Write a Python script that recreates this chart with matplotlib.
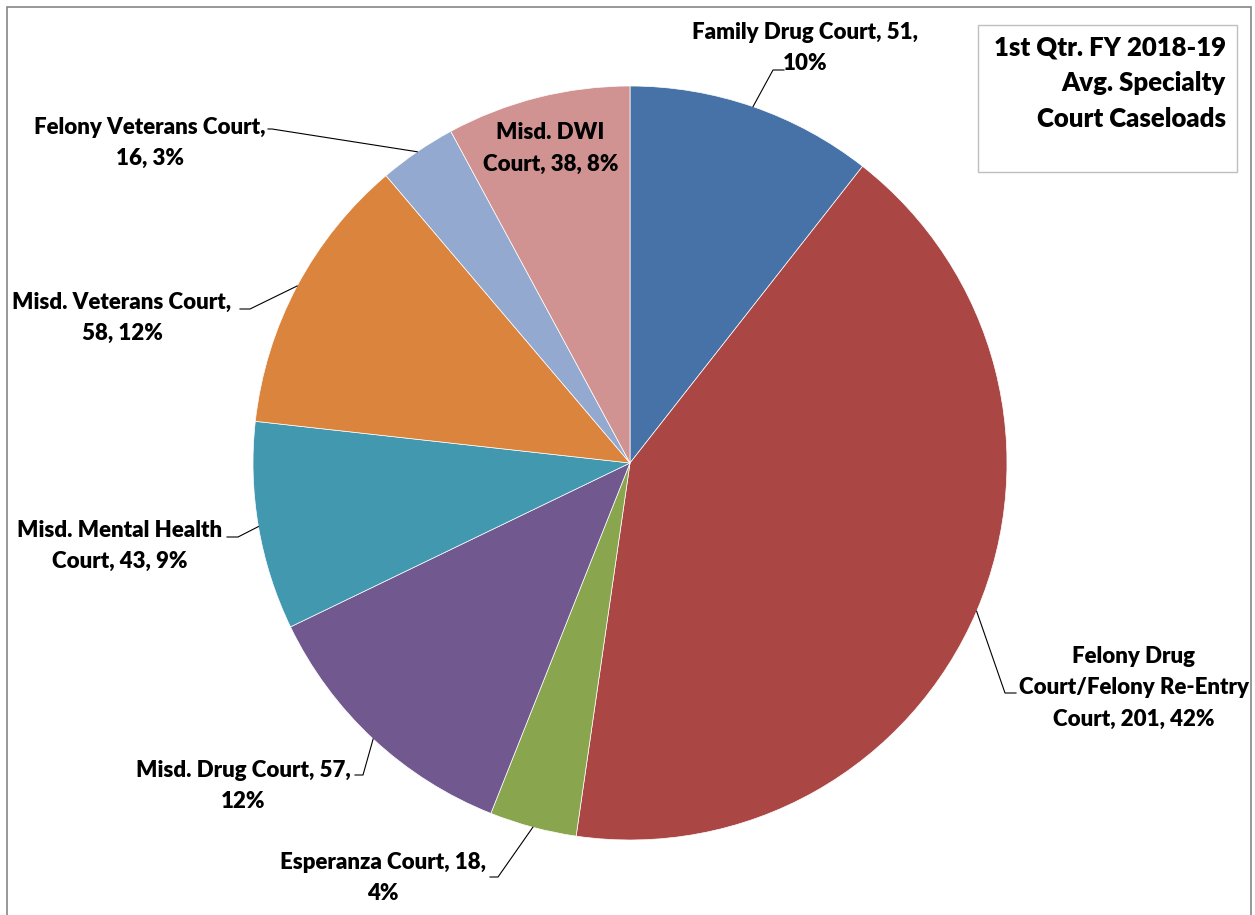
import matplotlib.pyplot as plt
from matplotlib.patches import Rectangle
import numpy as np

plt.rcParams['font.family'] = ['Lato', 'DejaVu Sans']

# Data
courts = ['Family Drug Court', 'Felony Drug Court/Felony Re-Entry Court', 'Esperanza Court',
          'Misd. Drug Court', 'Misd. Mental Health Court', 'Misd. Veterans Court',
          'Felony Veterans Court', 'Misd. DWI Court']
caseloads = [51, 201, 18, 57, 43, 58, 16, 38]
percents = [10, 42, 4, 12, 9, 12, 3, 8]
colors = ['#4672A8', '#AA4644', '#89A54E', '#71588F', '#4198AF', '#DB843D', '#93A9CF', '#D19392']

# label texts as broken over lines in the chart
labels = ['Family Drug Court, 51,\n10%',
          'Felony Drug\nCourt/Felony Re-Entry\nCourt, 201, 42%',
          'Esperanza Court, 18,\n4%',
          'Misd. Drug Court, 57,\n12%',
          'Misd. Mental Health\nCourt, 43, 9%',
          'Misd. Veterans Court,\n58, 12%',
          'Felony Veterans Court,\n16, 3%',
          'Misd. DWI\nCourt, 38, 8%']

W, H = 1255, 915
fig = plt.figure(figsize=(W / 100, H / 100), dpi=100)
ax = fig.add_axes([0, 0, 1, 1])

cx, cy, r = 630, H - 463, 377
wedges, _ = ax.pie(caseloads, colors=colors, startangle=90, counterclock=False,
                   center=(cx, cy), radius=r, frame=True,
                   wedgeprops=dict(linewidth=0.5, edgecolor='white'))
ax.set_xlim(0, W)
ax.set_ylim(0, H)
ax.axis('off')

# label layout (pixel coords, y from top): text centre, elbow point, end of leader
layout = [
    ((805, 48), (773, 70), (784, 70)),
    ((1134, 688), (1005, 693), (1016, 693)),
    ((383, 878), (498, 877), (490, 877)),
    ((243, 786), (363, 775), (355, 775)),
    ((120, 546), (238, 537), (227, 537)),
    ((122, 318), (250, 309), (240, 309)),
    ((150, 143), (272, 129), (268, 129)),
    (None, None, None),
]

lab_kw = dict(ha='center', va='center', fontsize=16, fontweight='heavy',
              linespacing=1.62, color='black')

for w, lab, (tpos, elbow, end) in zip(wedges, labels, layout):
    mid = np.deg2rad((w.theta1 + w.theta2) / 2)
    ex, ey = cx + r * np.cos(mid), cy + r * np.sin(mid)
    if tpos is None:
        # inside label for the DWI slice
        ax.text(cx + 0.86 * r * np.cos(mid), cy + 0.86 * r * np.sin(mid), lab, **lab_kw)
        continue
    ax.plot([ex, elbow[0], end[0]], [ey, H - elbow[1], H - end[1]],
            color='black', linewidth=0.8)
    ax.text(tpos[0], H - tpos[1], lab, **lab_kw)

# title box
ax.add_patch(Rectangle((978, H - 172), 259, 147, facecolor='white',
                       edgecolor='#BFBFBF', linewidth=1))
ax.text(1226, H - 83, '1st Qtr. FY 2018-19\nAvg. Specialty\nCourt Caseloads',
        ha='right', va='center', fontsize=18.5, fontweight='heavy', linespacing=1.58)

# chart outer border
ax.add_patch(Rectangle((7, -10), 1244, H - 7 + 10, facecolor='none',
                       edgecolor='#868686', linewidth=1.2))

fig.savefig('out.png', dpi=100)
